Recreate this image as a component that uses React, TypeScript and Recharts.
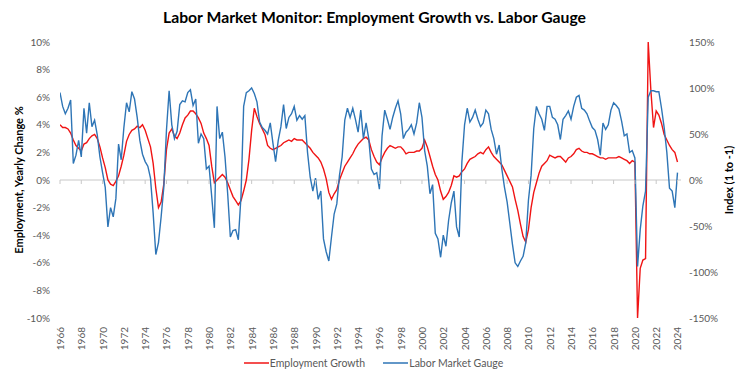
import React from 'react';
import { LineChart, Line, XAxis, YAxis, ReferenceLine, Legend } from 'recharts';

// Quarterly observations, first point = Q1 1966, last point = Q1 2024
const FIRST_YEAR = 1966;
const STEP_YEARS = 0.25;

// Employment, yearly change in % (left axis)
const employment = [
  4.0, 3.8, 3.8, 3.7, // 1966
  3.4, 2.9, 2.5, 2.3, // 1967
  2.1, 2.6, 2.7, 3.0, // 1968
  3.2, 3.3, 3.0, 2.4, // 1969
  1.6, 0.9, 0.0, -0.3, // 1970
  -0.4, -0.1, 0.3, 1.0, // 1971
  1.8, 2.8, 3.3, 3.6, // 1972
  3.7, 3.9, 3.8, 4.0, // 1973
  3.6, 3.0, 2.4, 1.2, // 1974
  -0.6, -2.0, -1.6, -0.3, // 1975
  2.2, 3.4, 3.7, 3.2, // 1976
  3.0, 3.4, 4.0, 4.5, // 1977
  4.7, 5.0, 5.0, 4.8, // 1978
  4.5, 4.1, 3.4, 3.0, // 1979
  2.5, 1.0, -0.2, 0.0, // 1980
  0.2, 0.4, 0.2, -0.2, // 1981
  -0.7, -1.2, -1.5, -1.8, // 1982
  -1.5, -0.8, 0.0, 1.5, // 1983
  3.6, 5.2, 4.6, 4.1, // 1984
  3.7, 3.3, 2.5, 2.3, // 1985
  2.2, 2.3, 2.4, 2.5, // 1986
  2.7, 2.8, 2.9, 2.8, // 1987
  3.0, 2.9, 2.9, 2.9, // 1988
  2.7, 2.5, 2.3, 2.0, // 1989
  1.8, 1.6, 1.3, 0.8, // 1990
  0.1, -0.9, -1.4, -1.0, // 1991
  -0.7, 0.0, 0.5, 1.0, // 1992
  1.3, 1.6, 1.9, 2.3, // 1993
  2.6, 2.8, 3.0, 3.1, // 1994
  2.9, 2.2, 1.7, 1.3, // 1995
  1.1, 1.6, 2.0, 2.3, // 1996
  2.5, 2.4, 2.3, 2.4, // 1997
  2.4, 2.2, 1.9, 2.0, // 1998
  2.0, 2.0, 2.1, 2.1, // 1999
  2.3, 2.9, 2.4, 1.7, // 2000
  1.0, 0.4, 0.0, -0.8, // 2001
  -1.4, -1.2, -0.9, -0.4, // 2002
  0.3, 0.2, 0.3, 0.6, // 2003
  0.8, 1.2, 1.5, 1.6, // 2004
  1.7, 1.9, 2.0, 1.9, // 2005
  2.2, 2.4, 2.0, 1.7, // 2006
  1.5, 1.3, 1.1, 0.7, // 2007
  0.3, -0.1, -0.5, -1.4, // 2008
  -2.2, -3.2, -4.1, -4.5, // 2009
  -3.6, -2.0, -0.9, -0.2, // 2010
  0.5, 1.0, 1.2, 1.4, // 2011
  1.8, 1.7, 1.6, 1.7, // 2012
  1.7, 1.5, 1.3, 1.6, // 2013
  1.7, 1.9, 2.2, 2.3, // 2014
  2.1, 2.0, 2.0, 1.9, // 2015
  1.9, 1.8, 1.7, 1.6, // 2016
  1.6, 1.5, 1.6, 1.6, // 2017
  1.6, 1.6, 1.7, 1.6, // 2018
  1.5, 1.4, 1.2, 1.4, // 2019
  1.3, -10.0, -6.4, -5.8, // 2020
  -5.7, 10.0, 6.5, 3.8, // 2021
  5.0, 4.7, 4.1, 3.3, // 2022
  2.9, 2.5, 2.2, 2.0, // 2023
  1.3, // 2024
];

// Labor Market Gauge, index in % (right axis, 1 to -1)
const gauge = [
  95, 80, 72, 78, // 1966
  87, 18, 27, 43, // 1967
  25, 78, 51, 84, // 1968
  58, 65, 49, 25, // 1969
  8, -8, -51, -30, // 1970
  -40, -20, 39, 22, // 1971
  57, 84, 74, 96, // 1972
  88, 68, 43, 28, // 1973
  20, 15, 2, -36, // 1974
  -81, -68, -40, -8, // 1975
  54, 97, 60, 45, // 1976
  53, 82, 86, 85, // 1977
  95, 98, 81, 88, // 1978
  40, 50, 45, 12, // 1979
  15, -18, -52, 80, // 1980
  45, 52, 25, -15, // 1981
  -62, -55, -54, -65, // 1982
  -18, 80, 95, 97, // 1983
  100, 94, 85, 63, // 1984
  57, 54, 50, 62, // 1985
  40, 20, 43, 58, // 1986
  82, 56, 68, 72, // 1987
  80, 65, 70, 66, // 1988
  70, 30, 3, -12, // 1989
  2, -21, -12, -64, // 1990
  -78, -88, -62, -37, // 1991
  -26, 5, 25, 65, // 1992
  78, 68, 78, 66, // 1993
  52, 76, 45, 62, // 1994
  45, 12, 6, 8, // 1995
  -10, 48, 76, 66, // 1996
  55, 68, 78, 86, // 1997
  72, 45, 52, 55, // 1998
  60, 50, 62, 84, // 1999
  68, 32, 15, -15, // 2000
  -5, -58, -64, -84, // 2001
  -60, -72, -44, -25, // 2002
  -12, -51, -62, 20, // 2003
  60, 78, 63, 68, // 2004
  76, 66, 58, 62, // 2005
  76, 72, 55, 45, // 2006
  28, 38, 12, -8, // 2007
  -24, -47, -70, -90, // 2008
  -94, -88, -83, -68, // 2009
  -22, 5, 56, 80, // 2010
  72, 66, 54, 80, // 2011
  80, 68, 66, 60, // 2012
  44, 66, 70, 75, // 2013
  66, 80, 90, 92, // 2014
  78, 76, 72, 64, // 2015
  57, 54, 44, 27, // 2016
  62, 55, 60, 76, // 2017
  84, 81, 77, 64, // 2018
  48, 50, 30, 32, // 2019
  24, -94, -54, -28, // 2020
  -12, 90, 97, 97, // 2021
  96, 96, 78, 57, // 2022
  30, -9, -12, -30, // 2023
  8, // 2024
];

const yearTicks = [
  1966, 1968, 1970, 1972, 1974, 1976, 1978, 1980, 1982, 1984, 1986, 1988, 1990, 1992, 1994,
  1996, 1998, 2000, 2002, 2004, 2006, 2008, 2010, 2012, 2014, 2016, 2018, 2020, 2022, 2024,
];
const leftTicks = [-10, -8, -6, -4, -2, 0, 2, 4, 6, 8, 10];
const rightTicks = [-150, -100, -50, 0, 50, 100, 150];
const seriesNames = ['Employment Growth', 'Labor Market Gauge'];

const rows = employment.map((e, i) => ({
  t: FIRST_YEAR + i * STEP_YEARS,
  employment: e,
  gauge: gauge[i],
}));

const FONT = 'Lato, "Open Sans", Arial, sans-serif';
const RED = '#F01414';
const BLUE = '#2E75B6';
const TICK_COLOR = '#595959';

const W = 749;
const H = 377;
const MARGIN = { top: 42, right: 10, bottom: 5, left: 8 };
const PLOT_TOP = 42;
const PLOT_H = 276;
const ZERO_Y = PLOT_TOP + PLOT_H / 2;

const XTick = (props: any) => {
  const { x, y, payload } = props;
  return (
    <g>
      <line x1={x} y1={ZERO_Y} x2={x} y2={ZERO_Y + 4} stroke="#c8c8c8" strokeWidth={1} />
      <text
        x={x}
        y={y + 1}
        transform={`rotate(-90 ${x} ${y + 1})`}
        textAnchor="end"
        dominantBaseline="central"
        fontSize={10}
        fontFamily={FONT}
        fill={TICK_COLOR}
      >
        {payload.value}
      </text>
    </g>
  );
};

const LegendItem = ({ color, label }: { color: string; label: string }) => (
  <span style={{ display: 'inline-flex', alignItems: 'center' }}>
    <svg width={25} height={6} style={{ display: 'block', marginRight: 1 }}>
      <line x1={0} y1={3} x2={25} y2={3} stroke={color} strokeWidth={1.5} />
    </svg>
    <span>{label}</span>
  </span>
);

const LegendContent = () => (
  <div
    style={{
      display: 'flex',
      justifyContent: 'center',
      alignItems: 'center',
      gap: 18,
      fontFamily: FONT,
      fontSize: 10.5,
      color: TICK_COLOR,
      height: 18,
    }}
  >
    <LegendItem color={RED} label={seriesNames[0]} />
    <LegendItem color={BLUE} label={seriesNames[1]} />
  </div>
);

export default function App() {
  return (
    <div style={{ position: 'absolute', left: 0, top: 0, width: W, height: H, background: '#fff' }}>
      <div
        style={{
          position: 'absolute',
          left: 0,
          top: 7,
          width: W,
          textAlign: 'center',
          fontFamily: FONT,
          fontWeight: 700,
          fontSize: 15.75,
          lineHeight: '20px',
          color: '#000',
          whiteSpace: 'nowrap',
        }}
      >
        Labor Market Monitor: Employment Growth vs. Labor Gauge
      </div>
      <div
        style={{
          position: 'absolute',
          left: 18,
          top: 180,
          transform: 'translate(-50%, -50%) rotate(-90deg)',
          fontFamily: FONT,
          fontWeight: 700,
          fontSize: 11,
          whiteSpace: 'nowrap',
          color: '#000',
        }}
      >
        Employment, Yearly Change %
      </div>
      <div
        style={{
          position: 'absolute',
          left: 728,
          top: 180,
          transform: 'translate(-50%, -50%) rotate(-90deg)',
          fontFamily: FONT,
          fontWeight: 700,
          fontSize: 11,
          whiteSpace: 'nowrap',
          color: '#000',
        }}
      >
        Index (1 to -1)
      </div>
      <LineChart width={W} height={H} data={rows} margin={MARGIN}>
        <XAxis
          dataKey="t"
          type="number"
          domain={[1966, 2024.33]}
          ticks={yearTicks}
          interval={0}
          height={36}
          axisLine={false}
          tickLine={false}
          tick={<XTick />}
          allowDataOverflow
        />
        <YAxis
          yAxisId="left"
          width={52}
          domain={[-10, 10]}
          ticks={leftTicks}
          interval={0}
          tickFormatter={(v: number) => `${v}%`}
          axisLine={false}
          tickLine={false}
          tickMargin={4}
          tick={{ fontSize: 10, fill: TICK_COLOR, fontFamily: FONT }}
          allowDataOverflow
        />
        <YAxis
          yAxisId="right"
          orientation="right"
          width={58}
          domain={[-150, 150]}
          ticks={rightTicks}
          interval={0}
          tickFormatter={(v: number) => `${v}%`}
          axisLine={false}
          tickLine={false}
          tick={{ fontSize: 10, fill: TICK_COLOR, fontFamily: FONT }}
          allowDataOverflow
        />
        <ReferenceLine yAxisId="left" y={0} stroke="#c8c8c8" strokeWidth={1} />
        <Legend verticalAlign="bottom" height={18} content={<LegendContent />} />
        <Line
          yAxisId="left"
          dataKey="employment"
          name={seriesNames[0]}
          type="linear"
          stroke={RED}
          strokeWidth={1.4}
          dot={false}
          isAnimationActive={false}
        />
        <Line
          yAxisId="right"
          dataKey="gauge"
          name={seriesNames[1]}
          type="linear"
          stroke={BLUE}
          strokeWidth={1.4}
          dot={false}
          isAnimationActive={false}
        />
      </LineChart>
    </div>
  );
}
